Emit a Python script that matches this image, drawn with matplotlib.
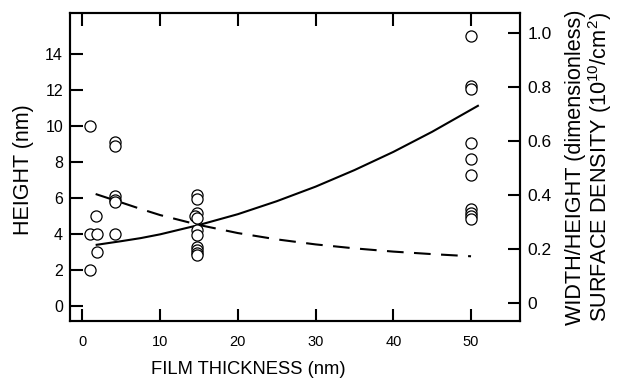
import matplotlib
matplotlib.use("Agg")
import matplotlib.pyplot as plt

plt.rcParams['font.family'] = ['Liberation Sans', 'DejaVu Sans']
plt.rcParams['mathtext.fontset'] = 'custom'
plt.rcParams['mathtext.rm'] = 'Liberation Sans'
plt.rcParams['mathtext.default'] = 'regular'

# Measured heights (open circles)
film_thickness = [1, 1, 1,
                  1.7, 1.85, 1.85,
                  4.2, 4.2, 4.2, 4.2, 4.2, 4.2,
                  14.8, 14.8, 14.8, 14.5, 14.8, 14.8, 14.8, 14.8, 14.8, 14.8, 14.8,
                  50, 50, 50, 50, 50, 50, 50, 50, 50, 50]
height = [10.0, 4.0, 2.0,
          5.0, 4.0, 3.0,
          9.1, 8.9, 6.1, 5.9, 5.75, 4.0,
          6.15, 5.95, 5.15, 5.0, 4.9, 4.2, 3.95, 3.3, 3.1, 2.95, 2.85,
          15.0, 12.2, 12.05, 9.05, 8.15, 7.25, 5.4, 5.15, 5.0, 4.85]

# Solid curve
solid_x = [1.7, 5, 7.5, 10, 15, 20, 25, 30, 35, 40, 45, 51]
solid_y = [3.39, 3.6, 3.77, 3.98, 4.5, 5.1, 5.82, 6.63, 7.55, 8.56, 9.68, 11.15]

# Dashed curve
dash_x = [1.7, 5, 7.5, 10, 15, 20, 25, 30, 35, 40, 45, 50]
dash_y = [6.22, 5.75, 5.39, 5.05, 4.5, 4.05, 3.7, 3.42, 3.2, 3.02, 2.88, 2.76]

left_ticks = [0, 2, 4, 6, 8, 10, 12, 14]
right_ticks = [0, 0.2, 0.4, 0.6, 0.8, 1.0]
right_ticklabels = ['0', '0.2', '0.4', '0.6', '0.8', '1.0']
x_ticks = [0, 10, 20, 30, 40, 50]

fig = plt.figure(figsize=(6.2, 3.78), dpi=100)
ax = fig.add_axes([70/620, 1 - 320.7/378, 450/620, (320.7 - 13)/378])

ax.plot(solid_x, solid_y, color='black', lw=1.5, solid_capstyle='butt')
ax.plot(dash_x, dash_y, color='black', lw=1.5, dashes=(8, 5))
ax.plot(film_thickness, height, linestyle='none', marker='o', ms=8,
        mfc='white', mec='black', mew=0.9)

ax.set_xlim(-1.6, 56.3)
ax.set_ylim(-0.82, 16.28)
ax.set_xticks(x_ticks)
ax.set_yticks(left_ticks)

for s in ax.spines.values():
    s.set_linewidth(1.5)

ax.tick_params(axis='x', which='both', direction='in', length=9, width=1.5,
               top=True, labelsize=10.5, pad=10)
ax.tick_params(axis='y', which='both', direction='in', length=9, width=1.5,
               labelsize=11.5, pad=5)

ax2 = ax.twinx()
ax2.set_ylim(-0.0667, 1.073)
ax2.set_yticks(right_ticks)
ax2.set_yticklabels(right_ticklabels)
ax2.tick_params(axis='y', direction='in', length=9, width=1.5, labelsize=12.5, pad=5.5)
for s in ax2.spines.values():
    s.set_linewidth(1.5)

fig.text(248.7/620, 1 - 370/378, 'FILM THICKNESS (nm)', ha='center', va='center',
         fontsize=13.2)
fig.text(24/620, 1 - 170/378, 'HEIGHT (nm)', ha='center', va='center',
         rotation=90, fontsize=15.5)
fig.text(576/620, 1 - 167.5/378, 'WIDTH/HEIGHT (dimensionless)', ha='center',
         va='center', rotation=90, fontsize=15.6)
fig.text(600/620, 1 - 167.5/378, 'SURFACE DENSITY (10$^{10}$/cm$^{2}$)',
         ha='center', va='center', rotation=90, fontsize=15.6)

fig.savefig('out.png', dpi=100)
